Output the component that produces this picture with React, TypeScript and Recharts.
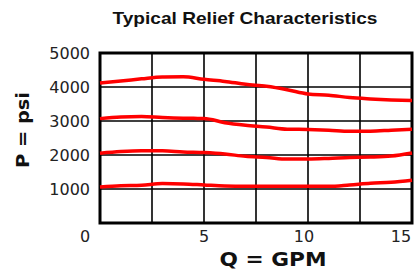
import { LineChart, Line, XAxis, YAxis, CartesianGrid, ReferenceArea, Label } from "recharts"

const flow = [0, 1, 2, 3, 4, 5, 6, 7, 8, 9, 10, 11, 12, 13, 14, 15]
const relief4000 = [4120, 4175, 4240, 4295, 4300, 4225, 4165, 4080, 4020, 3920, 3795, 3760, 3690, 3650, 3620, 3600]
const relief3000 = [3070, 3120, 3135, 3100, 3080, 3075, 2950, 2875, 2825, 2760, 2750, 2730, 2700, 2700, 2730, 2760]
const relief2000 = [2050, 2100, 2125, 2125, 2090, 2070, 2030, 1960, 1930, 1880, 1880, 1900, 1930, 1940, 1970, 2060]
const relief1000 = [1060, 1095, 1110, 1160, 1150, 1120, 1090, 1080, 1080, 1080, 1080, 1080, 1120, 1170, 1200, 1260]

const xTicks = [0, 2.5, 5, 7.5, 10, 12.5, 15]
const yTicks = [0, 1000, 2000, 3000, 4000, 5000]
const seriesKeys = ["s4000", "s3000", "s2000", "s1000"]

const data = flow.map((q, i) => ({
  q,
  s4000: relief4000[i],
  s3000: relief3000[i],
  s2000: relief2000[i],
  s1000: relief1000[i],
}))

// the original nudges a few x labels off their grid positions
const xLabelShift: Record<number, number> = { 0: -15, 10: -4, 15: -9 }

function XTick(props: any) {
  const { x, y, payload } = props
  const v = payload.value
  if (v % 5 !== 0) return null
  return (
    <text x={x + (xLabelShift[v] ?? 0)} y={y + 11} textAnchor="middle" fontFamily="DejaVu Sans" fontSize={16} fill="#222">
      {v}
    </text>
  )
}

export default function App() {
  return (
    <div style={{ position: "absolute", left: 0, top: 0, width: 418, height: 273, background: "#fff" }}>
      <LineChart width={418} height={273} data={data} margin={{ top: 53, right: 6, left: 0, bottom: 0 }}>
        <text x={245} y={24} textAnchor="middle" fontFamily="Liberation Sans" fontWeight="bold" fontSize={17} textLength={265} lengthAdjust="spacingAndGlyphs" fill="#111">
          Typical Relief Characteristics
        </text>
        <CartesianGrid stroke="#000" strokeWidth={1.6} strokeOpacity={1} />
        <XAxis
          dataKey="q"
          type="number"
          domain={[0, 15]}
          ticks={xTicks}
          tick={<XTick />}
          tickLine={false}
          axisLine={false}
          height={50}
        >
          <Label
            content={({ viewBox }: any) => (
              <text x={viewBox.x + viewBox.width / 2 + 17} y={266} textAnchor="middle" fontFamily="DejaVu Sans" fontWeight="bold" fontSize={20} textLength={107} lengthAdjust="spacingAndGlyphs" fill="#111">
                Q = GPM
              </text>
            )}
          />
        </XAxis>
        <YAxis
          type="number"
          domain={[0, 5000]}
          ticks={yTicks}
          tickFormatter={(v: number) => (v === 0 ? "" : String(v))}
          tick={{ fontFamily: "DejaVu Sans", fontSize: 16, fill: "#222" }}
          tickLine={false}
          axisLine={false}
          tickMargin={4}
          width={100}
        >
          <Label
            content={({ viewBox }: any) => {
              const cx = 29
              const cy = viewBox.y + viewBox.height / 2 - 8
              return (
                <text x={cx} y={cy} transform={`rotate(-90, ${cx}, ${cy})`} textAnchor="middle" fontFamily="DejaVu Sans" fontWeight="bold" fontSize={18} textLength={76} lengthAdjust="spacingAndGlyphs" fill="#111">
                  P = psi
                </text>
              )
            }}
          />
        </YAxis>
        <ReferenceArea x1={0} x2={15} y1={0} y2={5000} fill="none" stroke="#000" strokeWidth={3} ifOverflow="visible" />
        {seriesKeys.map((k) => (
          <Line key={k} dataKey={k} type="monotone" stroke="#ff0000" strokeWidth={3.5} dot={false} isAnimationActive={false} />
        ))}
      </LineChart>
    </div>
  )
}
